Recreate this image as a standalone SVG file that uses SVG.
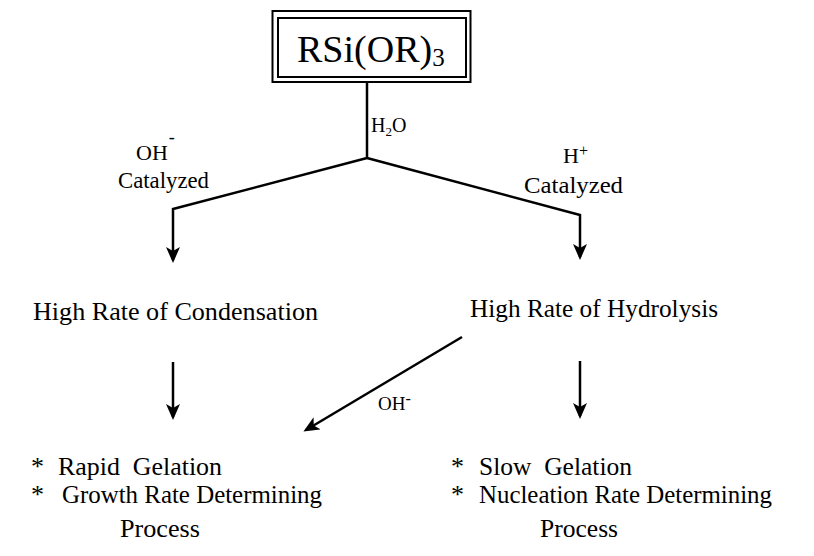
<svg xmlns="http://www.w3.org/2000/svg" width="814" height="556" viewBox="0 0 814 556">
<style>
text{font-family:"Liberation Serif","Times New Roman",serif;fill:#000;white-space:pre}
.lbl{font-size:26px}
.cat{font-size:24px}
.ln{fill:none;stroke:#000;stroke-width:2.5}
.box{fill:none;stroke:#000;stroke-width:2}
</style>
<defs>
<marker id="ah" viewBox="0 0 16 14" refX="13" refY="7" markerWidth="16" markerHeight="14" markerUnits="userSpaceOnUse" orient="auto">
<path d="M0,0 L16,7 L0,14 L4,7 Z" fill="#000"/>
</marker>
</defs>
<rect width="814" height="556" fill="#fff"/>
<g id="connectors">
<line class="ln" x1="367" y1="82" x2="367" y2="158"/>
<polyline class="ln" points="367,158 173,209 173,260" marker-end="url(#ah)"/>
<polyline class="ln" points="367,158 580,215 580,257" marker-end="url(#ah)"/>
<line class="ln" x1="173" y1="362" x2="173" y2="417" marker-end="url(#ah)"/>
<line class="ln" x1="580" y1="361" x2="580" y2="416" marker-end="url(#ah)"/>
<line class="ln" x1="462" y1="337" x2="306" y2="430" marker-end="url(#ah)"/>
<g id="label-h2o">
<text x="371" y="132" font-size="20">H<tspan font-size="13" dy="4">2</tspan><tspan dy="-4">O</tspan></text>
</g>
<g id="label-oh-left">
<text x="136" y="160" font-size="22">OH<tspan font-size="18" dx="1" dy="-17">-</tspan></text>
<text x="118" y="188" class="cat" textLength="91" lengthAdjust="spacingAndGlyphs">Catalyzed</text>
</g>
<g id="label-h-right">
<text x="563" y="163" font-size="22">H<tspan font-size="16" dy="-7">+</tspan></text>
<text x="524" y="193" class="cat" textLength="99" lengthAdjust="spacingAndGlyphs">Catalyzed</text>
</g>
<g id="label-oh-diag">
<text x="378" y="410" font-size="19">OH<tspan font-size="16" dy="-6">-</tspan></text>
</g>
</g>
<g id="node-rsi">
<rect class="box" x="272.5" y="11" width="198" height="71"/>
<rect class="box" x="278" y="18" width="188" height="59"/>
<text x="297" y="62" font-size="38">RSi(OR)<tspan font-size="25" dy="4">3</tspan></text>
</g>
<g id="node-condensation">
<text class="lbl" x="33" y="320" textLength="285" lengthAdjust="spacingAndGlyphs">High Rate of Condensation</text>
</g>
<g id="node-hydrolysis">
<text class="lbl" x="470" y="317" textLength="248" lengthAdjust="spacingAndGlyphs">High Rate of Hydrolysis</text>
</g>
<g id="node-rapid">
<text class="lbl" x="31" y="475">*</text>
<text class="lbl" x="58" y="475" textLength="164" lengthAdjust="spacingAndGlyphs">Rapid  Gelation</text>
<text class="lbl" x="31" y="503">*</text>
<text class="lbl" x="62" y="503" textLength="260" lengthAdjust="spacingAndGlyphs">Growth Rate Determining</text>
<text class="lbl" x="120" y="537" textLength="80" lengthAdjust="spacingAndGlyphs">Process</text>
</g>
<g id="node-slow">
<text class="lbl" x="451" y="475">*</text>
<text class="lbl" x="479" y="475" textLength="153" lengthAdjust="spacingAndGlyphs">Slow  Gelation</text>
<text class="lbl" x="451" y="503">*</text>
<text class="lbl" x="479" y="503" textLength="293" lengthAdjust="spacingAndGlyphs">Nucleation Rate Determining</text>
<text class="lbl" x="540" y="537" textLength="78" lengthAdjust="spacingAndGlyphs">Process</text>
</g>
</svg>
